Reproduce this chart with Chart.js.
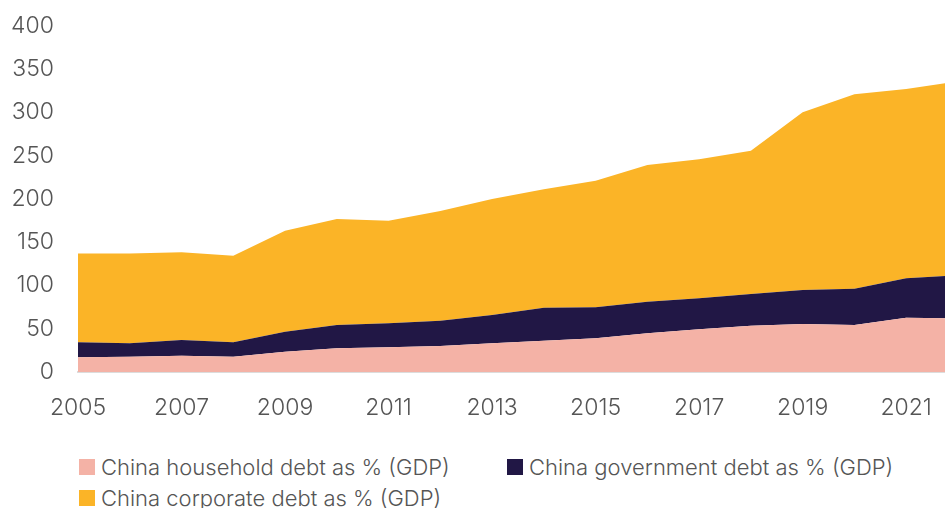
<!DOCTYPE html>
<html>
<head>
<meta charset="utf-8">
<script src="https://cdn.jsdelivr.net/npm/chart.js@4"></script>
<style>
  html, body { margin: 0; padding: 0; background: #fff; overflow: hidden; }
  #wrap { position: relative; width: 945px; height: 508px; }
  #chart-box { position: absolute; left: 0; top: 0; width: 945px; height: 440px; }
  #legenda {
    position: absolute; left: 79px; top: 455px;
    display: grid; grid-template-columns: 428px auto; row-gap: 8px;
    font-family: Inter, "Noto Sans", sans-serif; font-weight: 300; font-size: 22px; color: #555;
  }
  .item { display: flex; align-items: center; height: 23px; white-space: nowrap; }
  .box { width: 16px; height: 16px; margin-right: 6px; }
</style>
</head>
<body>
<div id="wrap">
  <div id="chart-box"><canvas id="grafico-divida"></canvas></div>
  <div id="legenda"></div>
</div>
<script>
// Dados (% do PIB)
const anos = [2005, 2006, 2007, 2008, 2009, 2010, 2011, 2012, 2013, 2014, 2015, 2016, 2017, 2018, 2019, 2020, 2021, 2022];
const familias = [17.0, 17.7, 18.9, 17.7, 23.5, 27.4, 28.5, 30.0, 33.2, 36.2, 38.9, 44.7, 49.3, 53.6, 55.5, 54.3, 62.8, 61.9];
const governo = [17.3, 15.5, 18.1, 16.6, 23.1, 26.9, 27.8, 29.3, 32.7, 38.2, 35.9, 36.6, 35.9, 36.6, 39.3, 42.0, 45.5, 50.0];
const empresas = [102.7, 103.8, 101.3, 100.2, 116.8, 122.6, 118.7, 126.7, 134.1, 136.8, 146.4, 158.0, 160.7, 165.7, 205.4, 224.7, 218.9, 224.0];
const rotulosAnos = [2005, 2007, 2009, 2011, 2013, 2015, 2017, 2019, 2021];
const rotulosY = [0, 50, 100, 150, 200, 250, 300, 350, 400];

const series = [
    { label: 'China household debt as % (GDP)', valores: familias, cor: '#F4B2A6' },
    { label: 'China government debt as % (GDP)', valores: governo, cor: '#211745' },
    { label: 'China corporate debt as % (GDP)', valores: empresas, cor: '#FBB427' }
];

const fonteEixo = { family: 'Inter, "Noto Sans", sans-serif', size: 23, weight: 300 };

document.addEventListener('DOMContentLoaded', function() {
    const ctx = document.getElementById('grafico-divida').getContext('2d');
    new Chart(ctx, {
        type: 'line',
        data: {
            datasets: series.map((s, i) => ({
                label: s.label,
                data: anos.map((a, j) => ({ x: a, y: s.valores[j] })),
                backgroundColor: s.cor,
                borderWidth: 0,
                pointRadius: 0,
                tension: 0,
                fill: i === 0 ? 'origin' : '-1'
            }))
        },
        options: {
            responsive: true,
            maintainAspectRatio: false,
            animation: false,
            layout: { padding: { top: 26, right: 0, left: 0, bottom: 0 } },
            plugins: { legend: { display: false }, tooltip: { enabled: false } },
            scales: {
                x: {
                    type: 'linear',
                    min: 2005,
                    max: 2021.75,
                    afterBuildTicks: scale => { scale.ticks = rotulosAnos.map(v => ({ value: v })); },
                    afterFit: scale => {
                        scale.height = 68;
                        scale.paddingLeft = 0;
                        scale.paddingRight = 0;
                    },
                    grid: { display: false, drawTicks: false },
                    border: { display: true, color: '#dcdcdc', width: 2 },
                    ticks: { color: '#555', font: fonteEixo, padding: 22, maxRotation: 0, autoSkip: false, callback: v => String(v) }
                },
                y: {
                    stacked: true,
                    min: 0,
                    max: 400,
                    afterBuildTicks: scale => { scale.ticks = rotulosY.map(v => ({ value: v })); },
                    afterFit: scale => {
                        scale.width = 78;
                        scale.paddingTop = 0;
                        scale.paddingBottom = 0;
                    },
                    grid: { display: false, drawTicks: false },
                    border: { display: false },
                    ticks: { color: '#555', font: fonteEixo, padding: 24 }
                }
            }
        }
    });

    // Legenda em HTML (duas colunas, como no original)
    const legenda = document.getElementById('legenda');
    series.forEach(s => {
        const item = document.createElement('div');
        item.className = 'item';
        item.innerHTML = `<span class="box" style="background:${s.cor}"></span>${s.label}`;
        legenda.appendChild(item);
    });
});
</script>
</body>
</html>
